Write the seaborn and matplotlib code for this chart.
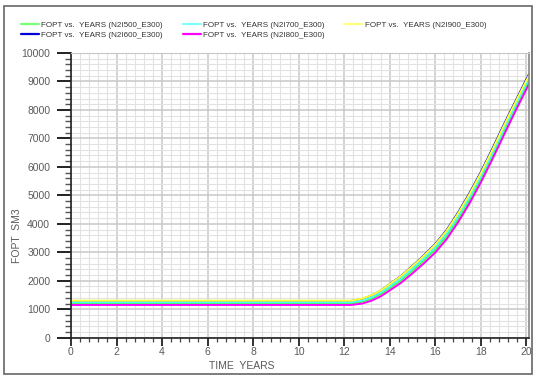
import matplotlib
matplotlib.use("Agg")
import matplotlib.pyplot as plt
import seaborn as sns
import pandas as pd
from matplotlib.ticker import MultipleLocator
from matplotlib.patches import Rectangle

years = [0.0, 12.3, 12.8, 13.2, 13.6, 14.0, 14.5, 15.0, 15.5, 16.0, 16.5, 17.0,
         17.5, 18.0, 18.5, 19.0, 19.5, 20.0, 20.12]

fopt_n2i500 = [1200, 1200, 1265, 1370, 1530, 1745, 2020, 2355, 2710, 3095, 3570, 4165,
               4830, 5570, 6370, 7210, 8040, 8840, 9030]
fopt_n2i600 = [1290, 1290, 1360, 1480, 1650, 1880, 2170, 2520, 2890, 3290, 3780, 4390,
               5070, 5810, 6620, 7460, 8270, 9070, 9260]
fopt_n2i700 = [1245, 1245, 1310, 1420, 1585, 1805, 2085, 2425, 2785, 3175, 3660, 4260,
               4930, 5670, 6470, 7310, 8130, 8935, 9125]
fopt_n2i800 = [1150, 1150, 1200, 1300, 1450, 1660, 1930, 2260, 2610, 2990, 3460, 4050,
               4710, 5450, 6250, 7090, 7920, 8720, 8910]
fopt_n2i900 = [1300, 1300, 1375, 1490, 1655, 1880, 2165, 2510, 2875, 3270, 3755, 4360,
               5035, 5775, 6580, 7420, 8235, 9030, 9220]

series_names = ["FOPT vs.  YEARS (N2I500_E300)", "FOPT vs.  YEARS (N2I600_E300)",
                "FOPT vs.  YEARS (N2I700_E300)", "FOPT vs.  YEARS (N2I800_E300)",
                "FOPT vs.  YEARS (N2I900_E300)"]
series_values = [fopt_n2i500, fopt_n2i600, fopt_n2i700, fopt_n2i800, fopt_n2i900]
colors = ["#44ff44", "#0000cc", "#44ffff", "#ff00ff", "#ffff33"]
legend_colors = ["#77ff77", "#0000dd", "#80ffff", "#ff00ff", "#ffff80"]

x_ticks = [0, 2, 4, 6, 8, 10, 12, 14, 16, 18, 20]
y_ticks = [0, 1000, 2000, 3000, 4000, 5000, 6000, 7000, 8000, 9000, 10000]

sns.set_style("white")
plt.rcParams["font.family"] = ["Liberation Sans", "DejaVu Sans"]

fig = plt.figure(figsize=(5.36, 3.79), dpi=100)
ax = fig.add_axes([71/536, 1 - 337.7/379, 458/536, 284.7/379])

frames = []
for name, vals in zip(series_names, series_values):
    frames.append(pd.DataFrame({"YEARS": years, "FOPT": vals, "case": name}))
df = pd.concat(frames, ignore_index=True)

sns.lineplot(data=df, x="YEARS", y="FOPT", hue="case", hue_order=series_names,
             palette=dict(zip(series_names, colors)), linewidth=1.4, ax=ax,
             legend=False)

ax.set_xlim(0, 20.12)
ax.set_ylim(0, 10000)
ax.set_xticks(x_ticks)
ax.set_yticks(y_ticks)
ax.set_xticklabels([str(t) for t in x_ticks])
ax.set_yticklabels([str(t) for t in y_ticks])
ax.xaxis.set_minor_locator(MultipleLocator(0.4))
ax.yaxis.set_minor_locator(MultipleLocator(200))

ax.grid(which="major", color="#c8c8c8", linewidth=1.1, zorder=0)
ax.grid(which="minor", color="#e2e2e2", linewidth=0.8, zorder=0)
ax.set_axisbelow(True)

ax.tick_params(axis="y", which="major", direction="out", length=10, width=1.4,
               color="#222222", labelsize=7.5, labelcolor="#5a5a5a", pad=5, left=True)
ax.tick_params(axis="y", which="minor", direction="out", length=4, width=1.0,
               color="#555555", left=True)
ax.tick_params(axis="x", which="major", direction="out", length=6, width=1.3,
               color="#222222", labelsize=7.5, labelcolor="#5a5a5a", pad=1, bottom=True)
ax.tick_params(axis="x", which="minor", direction="out", length=3, width=0.9,
               color="#444444", bottom=True)

for side in ["left", "bottom"]:
    ax.spines[side].set_color("#222222")
    ax.spines[side].set_linewidth(1.2)
ax.spines["top"].set_color("#c8c8c8")
ax.spines["right"].set_color("#888888")
ax.spines["right"].set_linewidth(1.2)

ax.set_xlabel("TIME  YEARS", fontsize=7.5, color="#5a5a5a")
ax.set_ylabel("FOPT  SM3", fontsize=7.5, color="#5a5a5a")
ax.xaxis.set_label_coords(0.373, -0.082)
ax.yaxis.set_label_coords(-0.106, 0.36)

handles = [plt.Line2D([], [], color=c, linewidth=1.6) for c in legend_colors]
fig.legend(handles, series_names, loc="upper left",
           bbox_to_anchor=(20.7/536, 1 - 21.3/379),
           ncol=3, frameon=False, fontsize=5.8, labelcolor="#333333",
           handlelength=2.25, handletextpad=0.25, columnspacing=2.5, labelspacing=0.3,
           borderaxespad=0, borderpad=0)

fig.patches.append(Rectangle((4/536, 5/379), 528/536, 368/379, transform=fig.transFigure,
                             fill=False, edgecolor="#666666", linewidth=1.2))

fig.savefig("out.png", dpi=100)
